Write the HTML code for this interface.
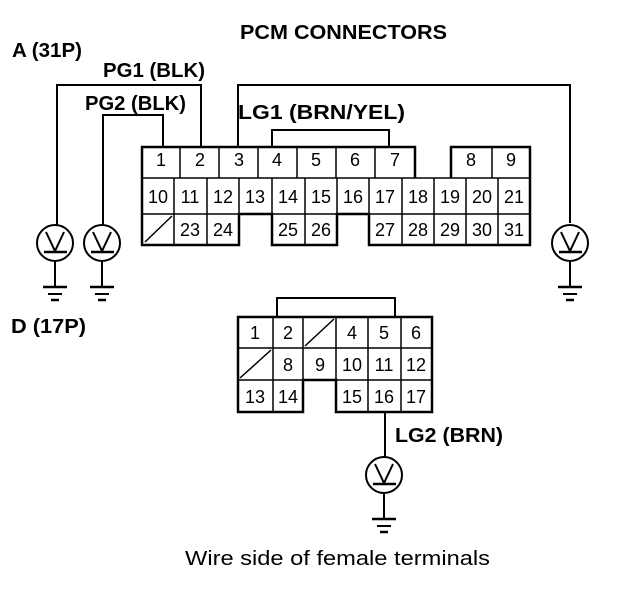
<!DOCTYPE html>
<html><head><meta charset="utf-8"><style>
html,body{margin:0;padding:0;background:#fff}
svg{display:block}
.b{font-family:"Liberation Sans",sans-serif;font-weight:bold;font-size:20px}
.n{font-family:"Liberation Sans",sans-serif;font-size:18px;text-anchor:middle}
</style></head><body>
<svg width="624" height="590" viewBox="0 0 624 590" xmlns="http://www.w3.org/2000/svg">
<defs>
<g id="m" fill="none" stroke="#000" stroke-width="2">
<circle cx="0" cy="0" r="18"/>
<path d="M-9,-11 L0,8 L9,-11" />
<path d="M-11,9 L12,9" stroke-width="2.5"/>
<path d="M0,18 L0,44"/>
<path d="M-12,44 L12,44" stroke-width="2.5"/>
<path d="M-7,51 L7,51"/>
<path d="M-4,57 L4,57" stroke-width="2.5"/>
</g>
</defs>
<text class="b" x="240" y="39" textLength="207" lengthAdjust="spacingAndGlyphs">PCM CONNECTORS</text>
<text class="b" x="12" y="57" textLength="70" lengthAdjust="spacingAndGlyphs">A (31P)</text>
<text class="b" x="103" y="77" textLength="102" lengthAdjust="spacingAndGlyphs">PG1 (BLK)</text>
<text class="b" x="85" y="110" textLength="101" lengthAdjust="spacingAndGlyphs">PG2 (BLK)</text>
<text class="b" x="238" y="119" textLength="167" lengthAdjust="spacingAndGlyphs">LG1 (BRN/YEL)</text>
<text class="b" x="11" y="333" textLength="75" lengthAdjust="spacingAndGlyphs">D (17P)</text>
<text class="b" x="395" y="442" textLength="108" lengthAdjust="spacingAndGlyphs">LG2 (BRN)</text>
<text x="185" y="565" textLength="305" lengthAdjust="spacingAndGlyphs" style="font-family:'Liberation Sans',sans-serif;font-size:20px">Wire side of female terminals</text>

<g fill="none" stroke="#000" stroke-width="2">
<path d="M57,225 L57,85 L201,85 L201,147"/>
<path d="M103,225 L103,115 L163,115 L163,147"/>
<path d="M238,147 L238,85 L570,85 L570,223"/>
<path d="M272,147 L272,130 L389,130 L389,147"/>
<g stroke-width="1.5">
<path d="M142,178 H530 M142,214 H530"/>
<path d="M180,147V178 M219,147V178 M258,147V178 M297,147V178 M336,147V178 M375,147V178 M492,147V178"/>
<path d="M174,178V245 M207,178V245 M239,178V214 M272,178V214 M305,178V245 M337,178V214 M369,178V214 M402,178V245 M434,178V245 M466,178V245 M498,178V245"/>
<path d="M145,242 L172,216"/>
</g>
<path d="M415,178 V147 H142 V245 H239 V214 H272 V245 H337 V214 H369 V245 H530 V147 H451 V178" stroke-width="2.5"/>
<path d="M277,317 L277,298 L395,298 L395,317"/>
<path d="M385,412 L385,457"/>
<g stroke-width="1.5">
<path d="M238,348 H432 M238,380 H432"/>
<path d="M273,317V412 M303,317V380 M336,317V412 M368,317V412 M401,317V412"/>
<path d="M240,378 L271,350 M305,346 L334,319"/>
</g>
<path d="M238,317 H432 V412 H336 V380 H303 V412 H238 Z" stroke-width="2.5"/>
</g>
<g class="n">
<text x="161" y="166">1</text><text x="200" y="166">2</text><text x="239" y="166">3</text><text x="277" y="166">4</text><text x="316" y="166">5</text><text x="355" y="166">6</text><text x="395" y="166">7</text><text x="471" y="166">8</text><text x="511" y="166">9</text>
<text x="158" y="203">10</text><text x="190" y="203">11</text><text x="223" y="203">12</text><text x="255" y="203">13</text><text x="288" y="203">14</text><text x="321" y="203">15</text><text x="353" y="203">16</text><text x="385" y="203">17</text><text x="418" y="203">18</text><text x="450" y="203">19</text><text x="482" y="203">20</text><text x="514" y="203">21</text>
<text x="190" y="236">23</text><text x="223" y="236">24</text><text x="288" y="236">25</text><text x="321" y="236">26</text><text x="385" y="236">27</text><text x="418" y="236">28</text><text x="450" y="236">29</text><text x="482" y="236">30</text><text x="514" y="236">31</text>
<text x="255" y="339">1</text><text x="288" y="339">2</text><text x="352" y="339">4</text><text x="384" y="339">5</text><text x="416" y="339">6</text>
<text x="288" y="371">8</text><text x="320" y="371">9</text><text x="352" y="371">10</text><text x="384" y="371">11</text><text x="416" y="371">12</text>
<text x="255" y="403">13</text><text x="288" y="403">14</text><text x="352" y="403">15</text><text x="384" y="403">16</text><text x="416" y="403">17</text>
</g>
<use href="#m" x="55" y="243"/>
<use href="#m" x="102" y="243"/>
<use href="#m" x="570" y="243"/>
<use href="#m" x="384" y="475"/>
</svg>
</body></html>
